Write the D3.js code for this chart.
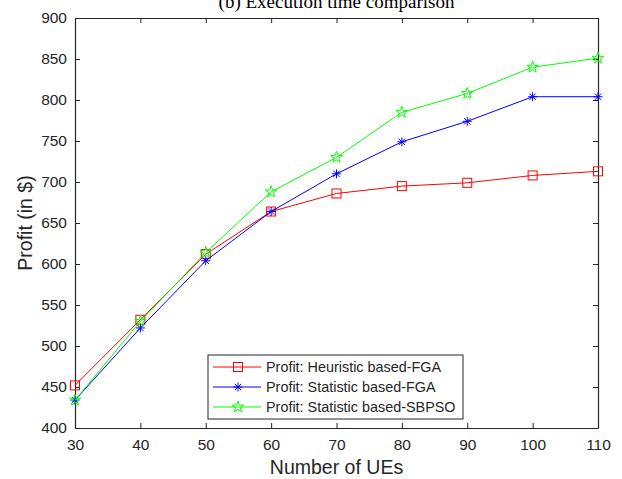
<!DOCTYPE html>
<html>
<head>
<meta charset="utf-8">
<script src="https://cdn.jsdelivr.net/npm/d3@7"></script>
<style>
  body { margin: 0; background: #fff; }
  text { font-family: "Liberation Sans", Arial, sans-serif; fill: #262626; }
</style>
</head>
<body>
<div id="chart-area"></div>
<script>
// data
var ues = [30, 40, 50, 60, 70, 80, 90, 100, 110];
var heuristicFGA = [452, 532, 612, 664, 686, 695, 699, 708, 713];
var statisticFGA = [434, 522, 604, 664, 710, 749, 774, 804, 804];
var statisticSBPSO = [434, 530, 614, 688, 730, 785, 808, 840, 851];
var xTicks = [30, 40, 50, 60, 70, 80, 90, 100, 110];
var yTicks = [400, 450, 500, 550, 600, 650, 700, 750, 800, 850, 900];

var series = [
    {name: "Profit: Heuristic based-FGA", values: heuristicFGA, color: "#ff0000", marker: "square"},
    {name: "Profit: Statistic based-FGA", values: statisticFGA, color: "#0000ff", marker: "asterisk"},
    {name: "Profit: Statistic based-SBPSO", values: statisticSBPSO, color: "#00ff00", marker: "star"}
];

var W = 622, H = 479;
var m = {left: 75, right: 24, top: 18, bottom: 51};

var svg = d3.select("#chart-area")
    .append("svg")
    .attr("width", W)
    .attr("height", H);

var x = d3.scaleLinear().domain([30, 110]).range([m.left, W - m.right]);
var y = d3.scaleLinear().domain([400, 900]).range([H - m.bottom, m.top]);

// title, cut off at the top like the original
svg.append("text")
    .attr("x", (m.left + W - m.right) / 2)
    .attr("y", 8)
    .attr("text-anchor", "middle")
    .style("font-family", "'Liberation Serif', 'Times New Roman', serif")
    .style("font-size", "19px")
    .style("fill", "#000")
    .text("(b) Execution time comparison");

var axisColor = "#262626";

// axes (ticks inside, like matlab)
function styleAxis(g) {
    g.selectAll("path").attr("stroke", axisColor);
    g.selectAll("line").attr("stroke", axisColor);
    g.selectAll("text").style("font-size", "15.5px").attr("fill", axisColor);
}

svg.append("g")
    .attr("transform", "translate(0," + (H - m.bottom) + ")")
    .call(d3.axisBottom(x).tickValues(xTicks).tickSizeInner(-5).tickSizeOuter(0).tickPadding(11))
    .call(styleAxis);

svg.append("g")
    .attr("transform", "translate(" + m.left + ",0)")
    .call(d3.axisLeft(y).tickValues(yTicks).tickSizeInner(-5).tickSizeOuter(0).tickPadding(8))
    .call(styleAxis);

svg.append("g")
    .attr("transform", "translate(0," + m.top + ")")
    .call(d3.axisTop(x).tickValues(xTicks).tickSizeInner(-5).tickSizeOuter(0).tickFormat(""))
    .call(styleAxis);

svg.append("g")
    .attr("transform", "translate(" + (W - m.right) + ",0)")
    .call(d3.axisRight(y).tickValues(yTicks).tickSizeInner(-5).tickSizeOuter(0).tickFormat(""))
    .call(styleAxis);

svg.selectAll(".domain").attr("stroke-width", 1.2);

// axis labels
svg.append("text")
    .attr("x", (m.left + W - m.right) / 2)
    .attr("y", 474)
    .attr("text-anchor", "middle")
    .style("font-size", "19.5px")
    .text("Number of UEs");

svg.append("text")
    .attr("transform", "translate(32," + ((m.top + H - m.bottom) / 2) + ") rotate(-90)")
    .attr("text-anchor", "middle")
    .style("font-size", "19.5px")
    .text("Profit (in $)");

// markers
function drawMarker(g, type, color, cx, cy) {
    if (type == "square") {
        g.append("rect")
            .attr("x", cx - 4.5).attr("y", cy - 4.5)
            .attr("width", 9).attr("height", 9)
            .attr("fill", "none").attr("stroke", color).attr("stroke-width", 1);
    } else if (type == "asterisk") {
        var r = 4.5;
        [0, 45, 90, 135].forEach(function(a) {
            var rad = a * Math.PI / 180;
            g.append("line")
                .attr("x1", cx - r * Math.cos(rad)).attr("y1", cy - r * Math.sin(rad))
                .attr("x2", cx + r * Math.cos(rad)).attr("y2", cy + r * Math.sin(rad))
                .attr("stroke", color).attr("stroke-width", 1);
        });
    } else {
        // pentagram
        var pts = [];
        for (var k = 0; k < 10; k++) {
            var rr = k % 2 == 0 ? 6 : 2.4;
            var ang = -Math.PI / 2 + k * Math.PI / 5;
            pts.push([cx + rr * Math.cos(ang), cy + rr * Math.sin(ang)]);
        }
        g.append("path")
            .attr("d", "M" + pts.join("L") + "Z")
            .attr("fill", "none").attr("stroke", color).attr("stroke-width", 1);
    }
}

var line = d3.line()
    .x(function(d, i) { return x(ues[i]); })
    .y(function(d) { return y(d); });

series.forEach(function(s) {
    svg.append("path")
        .datum(s.values)
        .attr("d", line)
        .attr("fill", "none")
        .attr("stroke", s.color)
        .attr("stroke-width", 1);
    var g = svg.append("g");
    s.values.forEach(function(v, i) {
        drawMarker(g, s.marker, s.color, x(ues[i]), y(v));
    });
});

// legend
var lg = svg.append("g").attr("transform", "translate(208,355)");
lg.append("rect")
    .attr("width", 255).attr("height", 64)
    .attr("fill", "#fff").attr("stroke", axisColor).attr("stroke-width", 1);

series.forEach(function(s, i) {
    var ly = 12 + i * 20;
    lg.append("line")
        .attr("x1", 5).attr("x2", 53)
        .attr("y1", ly).attr("y2", ly)
        .attr("stroke", s.color).attr("stroke-width", 1);
    drawMarker(lg, s.marker, s.color, 30, ly);
    lg.append("text")
        .attr("x", 58).attr("y", ly + 5)
        .style("font-size", "14.4px")
        .attr("fill", "#000")
        .text(s.name);
});
</script>
</body>
</html>
